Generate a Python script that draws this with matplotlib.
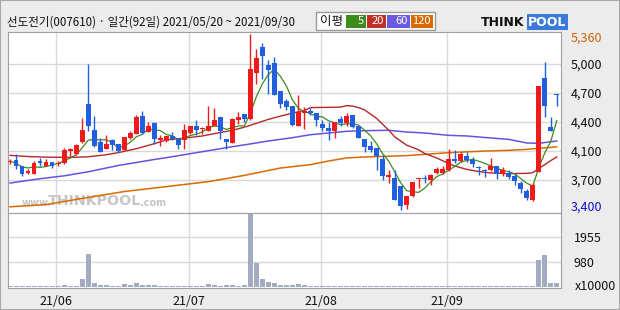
import numpy as np
import pandas as pd
import matplotlib
matplotlib.use("Agg")
import matplotlib.pyplot as plt
from matplotlib.patches import Rectangle

plt.rcParams['font.family'] = ['Noto Sans CJK KR', 'DejaVu Sans']

W, H = 620, 310

title = "선도전기(007610) · 일간(92일) 2021/05/20 ~ 2021/09/30"
month_labels = ["21/06", "21/07", "21/08", "21/09"]
month_start = [8, 30, 52, 73]

opens = [3935, 3960, 3890, 3810, 3805, 3950, 3895, 3935, 3910, 3925,
         4055, 4025, 4155, 4585, 4285, 4155, 4080, 4175, 4130, 4065,
         4200, 4250, 4445, 4270, 4370, 4175, 4165, 4225, 4185, 4175,
         4260, 4330, 4300, 4275, 4340, 4435, 4185, 4150, 4405, 4470,
         4410, 4930, 5215, 5020, 5035, 4730, 4615, 4560, 4335, 4475,
         4500, 4480, 4360, 4315, 4280, 4410, 4370, 4455, 4330, 4185,
         4110, 4090, 3970, 3770, 3760, 3665, 3450, 3550, 3740, 3750,
         3730, 3815, 3815, 3850, 3965, 3945, 4000, 3960, 3870, 3835,
         3840, 3890, 3795, 3815, 3780, 3705, 3610, 3515, 3825, 4870,
         4325, 4690]
highs = [3970, 4025, 3890, 3860, 3950, 3980, 3970, 3935, 3940, 4090,
         4090, 4130, 4425, 5030, 4445, 4200, 4230, 4185, 4130, 4210,
         4280, 4455, 4500, 4380, 4385, 4230, 4225, 4270, 4185, 4355,
         4340, 4400, 4325, 4560, 4535, 4435, 4185, 4425, 4490, 4470,
         5360, 5195, 5265, 5065, 5105, 4730, 4640, 4560, 4685, 4545,
         4535, 4480, 4400, 4380, 4385, 4445, 4480, 4455, 4340, 4185,
         4170, 4090, 4010, 3850, 3840, 3665, 3555, 3710, 3755, 3785,
         3805, 3880, 3895, 4075, 4065, 4040, 4040, 3990, 3895, 3860,
         3980, 3890, 3880, 3850, 3805, 3720, 3635, 3700, 4780, 5050,
         4435, 4690]
lows = [3910, 3860, 3780, 3795, 3805, 3895, 3895, 3865, 3885, 3915,
        3990, 4015, 4150, 4275, 4100, 4045, 4080, 4065, 4040, 4065,
        4195, 4250, 4250, 4270, 4130, 4115, 4160, 4175, 4080, 4080,
        4250, 4230, 4250, 4275, 4340, 4185, 4075, 4150, 4360, 4380,
        4400, 4805, 4860, 4695, 4685, 4530, 4510, 4340, 4335, 4305,
        4455, 4330, 4275, 4175, 4200, 4335, 4335, 4315, 4200, 4045,
        4040, 3850, 3730, 3705, 3515, 3400, 3410, 3545, 3645, 3705,
        3680, 3795, 3795, 3830, 3925, 3935, 3935, 3880, 3790, 3770,
        3830, 3750, 3780, 3750, 3680, 3590, 3515, 3495, 3825, 4430,
        4275, 4560]
closes = [3945, 3890, 3805, 3830, 3925, 3925, 3935, 3895, 3920, 4065,
          4075, 4120, 4285, 4340, 4110, 4045, 4130, 4120, 4055, 4210,
          4255, 4435, 4255, 4340, 4185, 4200, 4220, 4185, 4120, 4285,
          4335, 4295, 4315, 4340, 4400, 4275, 4155, 4410, 4435, 4410,
          4975, 5090, 5120, 4960, 4685, 4585, 4545, 4350, 4490, 4500,
          4475, 4400, 4315, 4280, 4385, 4370, 4445, 4325, 4200, 4100,
          4065, 4000, 3775, 3785, 3515, 3445, 3555, 3710, 3755, 3745,
          3785, 3860, 3860, 3965, 3950, 4025, 3960, 3915, 3865, 3830,
          3890, 3795, 3840, 3765, 3720, 3630, 3535, 3680, 4780, 4555,
          4275, 4685]
volumes = [30, 30, 30, 30, 30, 30, 30, 30, 30, 70,
           30, 30, 300, 1275, 144, 66, 66, 30, 30, 92,
           66, 144, 66, 66, 66, 30, 30, 30, 30, 30,
           30, 30, 30, 92, 66, 30, 66, 66, 30, 66,
           2835, 937, 300, 196, 144, 66, 66, 66, 92, 66,
           30, 30, 30, 30, 30, 30, 30, 30, 30, 30,
           30, 30, 30, 30, 30, 30, 30, 30, 30, 30,
           30, 30, 30, 30, 30, 30, 30, 30, 30, 30,
           30, 30, 30, 30, 30, 30, 30, 30, 1041, 1236,
           144, 144]

# moving averages (they depend on days before the window)
ma20_x = [0, 3, 6, 10, 13, 16, 18, 21, 24, 26, 29, 32, 34, 37, 39, 41, 43, 45,
          47, 49, 50, 55, 56, 57, 58, 59, 61, 63, 64, 66, 68, 69, 71, 73, 74,
          76, 78, 80, 83, 86, 87, 88, 89, 90, 91]
ma20_y = [4008, 3995, 3988, 3985, 3992, 4015, 4038, 4082, 4138, 4180, 4200,
          4224, 4250, 4287, 4322, 4365, 4409, 4445, 4478, 4509, 4540, 4545,
          4562, 4556, 4540, 4515, 4420, 4290, 4215, 4122, 4070, 4030, 3979,
          3918, 3890, 3852, 3828, 3812, 3804, 3808, 3815, 3862, 3905, 3950,
          3990]
ma60_x = [0, 5, 9, 13, 18, 24, 26, 31, 34, 37, 39, 43, 47, 50, 53, 56, 59,
          63, 66, 69, 73, 76, 79, 83, 86, 88, 91]
ma60_y = [3700, 3748, 3780, 3825, 3895, 3962, 3982, 4038, 4071, 4105, 4125,
          4168, 4205, 4238, 4257, 4276, 4283, 4287, 4268, 4257, 4231, 4224,
          4207, 4186, 4146, 4142, 4168]
ma120_x = [0, 6, 13, 19, 26, 33, 39, 45, 50, 53, 56, 59, 66, 73, 79, 83, 86, 91]
ma120_y = [3435, 3460, 3540, 3605, 3660, 3715, 3785, 3867, 3905, 3945, 3979,
           3990, 4005, 4038, 4056, 4064, 4075, 4103]

price_ticks = [5030, 4705, 4385, 4055, 3735]
price_labels = ["5,000", "4,700", "4,400", "4,100", "3,700"]
price_max, price_min = 5360, 3400
vol_ticks = [980, 1955]

RED = '#f01a1a'
BLUE = '#1f5fe0'
GREEN = '#3c8c1c'
MA20C = '#b42828'
MA60C = '#6454e0'
MA120C = '#d86a00'
GRID = '#d9d9d9'
EDGE = '#a0a0a0'


def fx(p):
    return p / W


def fy(p):
    return 1 - p / H


fig = plt.figure(figsize=(W / 100, H / 100), dpi=100, facecolor='#ececec')
ax = fig.add_axes([fx(8), fy(213), fx(553), 181 / H])
axv = fig.add_axes([fx(8), fy(288), fx(553), 75 / H])

o = np.array(opens)
h = np.array(highs)
l = np.array(lows)
c = np.array(closes)
x = np.arange(len(o))
col = np.where(c >= o, RED, BLUE)

ma5 = pd.Series(closes).rolling(5, min_periods=1).mean()

ax.plot(ma120_x, ma120_y, color=MA120C, lw=1.1, zorder=2)
ax.plot(ma60_x, ma60_y, color=MA60C, lw=1.1, zorder=2)
ax.plot(ma20_x, ma20_y, color=MA20C, lw=1.0, zorder=2)
ax.plot(x, ma5, color=GREEN, lw=0.9, zorder=2.5)

ax.vlines(x, l, h, colors=col, lw=1, zorder=3)
ax.bar(x, np.maximum(np.abs(c - o), 12), bottom=np.minimum(o, c), width=0.78,
       color=col, linewidth=0, zorder=4)

ax.set_xlim(-0.35, 91.7)
ax.set_ylim(3366, 5382)
ax.set_facecolor('white')
grid_x = [m - 0.3 for m in month_start]
for gx in grid_x:
    ax.axvline(gx, color=GRID, lw=1, zorder=0)
    axv.axvline(gx, color=GRID, lw=1, zorder=0)
for gy in price_ticks:
    ax.axhline(gy, color=GRID, lw=1, zorder=0)

ax.set_xticks([])
ax.yaxis.tick_right()
ax.set_yticks(price_ticks)
ax.set_yticklabels(price_labels)
ax.tick_params(axis='y', length=0, pad=7, labelsize=9, colors='#111111')
for s in ax.spines.values():
    s.set_color(EDGE)

# watermark
wm = dict(transform=ax.transAxes, color='#c6c6c6', fontweight='bold',
          family='DejaVu Sans', zorder=1, va='bottom')
ax.text(0.024, 0.03, "www.", fontsize=7, **wm)
ax.text(0.073, 0.025, "THINKPOOL", fontsize=10.3, **wm)
ax.text(0.238, 0.03, ".com", fontsize=7, **wm)

# volume
axv.bar(x, volumes, width=0.8, color='#a2abc2', linewidth=0, zorder=3)
for gy in vol_ticks:
    axv.axhline(gy, color=GRID, lw=1, zorder=0)
axv.set_xlim(-0.35, 91.7)
axv.set_ylim(-50, 2874)
axv.yaxis.tick_right()
axv.set_yticks(vol_ticks)
axv.set_yticklabels([str(v) for v in vol_ticks])
axv.tick_params(axis='y', length=0, pad=9, labelsize=9, colors='#111111')
axv.set_xticks(grid_x)
axv.set_xticklabels(month_labels)
axv.tick_params(axis='x', length=0, pad=5, labelsize=9, colors='#111111')
for s in axv.spines.values():
    s.set_color(EDGE)

# right side extra labels
fig.text(fx(571), fy(38), "5,360", color='#d06000', fontsize=9, va='center')
fig.text(fx(571), fy(207), "3,400", color='#1010d0', fontsize=9, va='center')
fig.text(fx(575), fy(286), "x10000", color='#111111', fontsize=9, va='center')

# title
fig.text(fx(7), fy(22), title, fontsize=8.3, va='center', color='#111111')

# legend box
fig.patches.append(Rectangle((fx(316), fy(30)), fx(119), 18 / H, transform=fig.transFigure,
                             facecolor='white', edgecolor='#999999', lw=1))
fig.text(fx(320), fy(21), "이평", fontsize=9, va='center', color='#111111')
legend_items = [("5", GREEN, 346, 366), ("20", '#c0302a', 367, 386),
                ("60", '#6a5ae0', 387, 410), ("120", '#d86a00', 411, 433)]
for lab, cc, x0, x1 in legend_items:
    fig.patches.append(Rectangle((fx(x0), fy(28)), fx(x1 - x0), 13 / H,
                                 transform=fig.transFigure, facecolor=cc, edgecolor='none'))
    fig.text(fx(x1 - 2), fy(21.5), lab, fontsize=8, va='center', ha='right', color='white')

# logo
fig.text(fx(481), fy(22), "THINK", fontsize=9, fontweight='bold', va='center',
         family='DejaVu Sans', color='#111111')
fig.text(fx(528), fy(22), "POOL", fontsize=9, fontweight='bold', va='center',
         family='DejaVu Sans', color='white',
         bbox=dict(boxstyle='square,pad=0.1', facecolor='#3b7ad8', edgecolor='none'))

fig.patches.append(Rectangle((0, 0), 1, 1, transform=fig.transFigure, fill=False,
                             edgecolor='#a8a8a8', lw=1.5))

fig.savefig("out.png", dpi=100, facecolor=fig.get_facecolor())
